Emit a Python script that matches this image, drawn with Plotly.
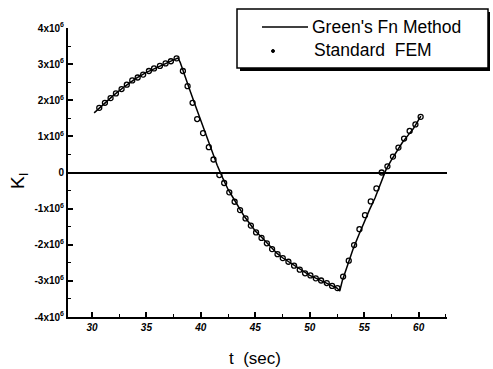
import plotly.graph_objects as go

# Stress intensity factor history, K_I in units of 10^6
green_t = [30.2, 31.0, 32.0, 33.0, 34.0, 35.0, 36.0, 37.0, 37.6, 37.9, 38.1, 38.5,
           39.0, 39.5, 40.0, 40.5, 41.0, 41.5, 42.0, 42.5, 43.0, 43.6, 44.0, 44.6,
           45.0, 45.6, 46.0, 46.5, 47.0, 47.5, 48.0, 48.6, 49.0, 49.6, 50.0, 50.6,
           51.0, 51.6, 52.0, 52.5, 52.75, 53.0, 53.4, 54.0, 54.5, 55.0, 55.5, 56.0,
           56.5, 57.0, 57.5, 58.0, 58.5, 59.0, 59.5, 60.2]
green_k = [1.65, 1.88, 2.14, 2.38, 2.60, 2.77, 2.92, 3.05, 3.13, 3.17, 3.05, 2.68,
           2.27, 1.85, 1.43, 1.01, 0.59, 0.20, -0.15, -0.47, -0.72, -1.03, -1.22, -1.46,
           -1.62, -1.80, -1.93, -2.10, -2.24, -2.36, -2.46, -2.58, -2.66, -2.78, -2.85, -2.93,
           -2.99, -3.07, -3.13, -3.20, -3.28, -2.98, -2.63, -2.10, -1.73, -1.36, -1.02, -0.70,
           -0.30, 0.08, 0.35, 0.58, 0.83, 1.02, 1.21, 1.56]

fem_t = [30.67, 31.19, 31.71, 32.2, 32.72, 33.2, 33.7, 34.2, 34.7, 35.23, 35.7, 36.24,
         36.76, 37.25, 37.77, 38.35, 38.78, 39.24, 39.66, 40.2, 40.73, 41.16, 41.7, 42.14,
         42.61, 43.1, 43.6, 44.1, 44.59, 45.07, 45.57, 46.06, 46.54, 47.04, 47.52, 48.04,
         48.56, 49.08, 49.57, 50.06, 50.55, 51.04, 51.56, 52.05, 52.54, 53.06, 53.58, 54.07,
         54.56, 55.07, 55.6, 56.12, 56.6, 57.13, 57.64, 58.14, 58.66, 59.17, 59.7, 60.18]
fem_k = [1.79, 1.93, 2.06, 2.19, 2.31, 2.43, 2.55, 2.63, 2.71, 2.81, 2.88, 2.95,
         3.02, 3.08, 3.16, 2.81, 2.39, 1.93, 1.48, 1.09, 0.70, 0.36, -0.07, -0.29,
         -0.55, -0.81, -1.04, -1.27, -1.47, -1.66, -1.81, -1.96, -2.12, -2.26, -2.37, -2.47,
         -2.58, -2.69, -2.79, -2.85, -2.93, -2.99, -3.06, -3.14, -3.20, -2.88, -2.44, -2.01,
         -1.57, -1.18, -0.80, -0.44, 0.0, 0.17, 0.44, 0.69, 0.94, 1.15, 1.33, 1.54]

x_ticks = [30, 35, 40, 45, 50, 55, 60]
y_ticks = [-4, -3, -2, -1, 0, 1, 2, 3, 4]
y_ticktext = ["-4x10<sup>6</sup>", "-3x10<sup>6</sup>", "-2x10<sup>6</sup>", "-1x10<sup>6</sup>",
              "0", "1x10<sup>6</sup>", "2x10<sup>6</sup>", "3x10<sup>6</sup>", "4x10<sup>6</sup>"]

SCALE = 1e6
FONT = "Liberation Sans, Arial, sans-serif"

fig = go.Figure()
fig.add_trace(go.Scatter(
    x=green_t, y=[k * SCALE for k in green_k], mode="lines",
    name="Green's Fn Method", line=dict(color="black", width=1.5), showlegend=False))
fig.add_trace(go.Scatter(
    x=fem_t, y=[k * SCALE for k in fem_k], mode="markers",
    name="Standard FEM", showlegend=False,
    marker=dict(symbol="circle-open", size=5, color="black", line=dict(width=1.3, color="black"))))

# plot area in pixels: x 68..447, y 28..317
L, R, T, B = 68, 447, 28, 317
def px(x):
    return (x - L) / (R - L)
def py(y):
    return (B - y) / (B - T)

shapes = [
    # legend shadow and box
    dict(type="rect", xref="paper", yref="paper", x0=px(240), x1=px(490), y0=py(71), y1=py(12),
         fillcolor="black", line=dict(width=0), layer="above"),
    dict(type="rect", xref="paper", yref="paper", x0=px(237), x1=px(488), y0=py(68), y1=py(9),
         fillcolor="white", line=dict(color="black", width=1.5), layer="above"),
    dict(type="line", xref="paper", yref="paper", x0=px(262), x1=px(308), y0=py(27), y1=py(27),
         line=dict(color="black", width=1.5), layer="above"),
    dict(type="circle", xref="paper", yref="paper", x0=px(271.5), x1=px(274.5), y0=py(52.5), y1=py(49.5),
         fillcolor="black", line=dict(color="black", width=1), layer="above"),
]

annotations = [
    dict(text="Green's Fn Method", xref="paper", yref="paper", x=px(310), y=py(27),
         xanchor="left", yanchor="middle", showarrow=False,
         font=dict(family=FONT, size=17.5, color="black")),
    dict(text="Standard\u00a0 FEM", xref="paper", yref="paper", x=px(312), y=py(50),
         xanchor="left", yanchor="middle", showarrow=False,
         font=dict(family=FONT, size=17.5, color="black")),
    dict(text="t\u00a0 (sec)", xref="paper", yref="paper", x=px(255), y=py(358),
         xanchor="center", yanchor="middle", showarrow=False,
         font=dict(family=FONT, size=17, color="black")),
    dict(text="K<sub>I</sub>", xref="paper", yref="paper", x=px(19), y=py(181),
         xanchor="center", yanchor="middle", showarrow=False, textangle=-90,
         font=dict(family=FONT, size=19, color="black")),
]

fig.update_layout(
    width=493, height=369,
    margin=dict(l=L, r=493 - R, t=T, b=369 - B),
    paper_bgcolor="white", plot_bgcolor="white",
    shapes=shapes, annotations=annotations,
    xaxis=dict(range=[27.8, 62.6], tickvals=x_ticks, ticks="inside", ticklen=5, tickwidth=1.5,
               tickcolor="black", showline=True, linewidth=2, linecolor="black",
               showgrid=False, zeroline=False,
               tickfont=dict(family=FONT, size=10, color="black", weight="bold", style="italic"),
               minor=dict(ticks="inside", ticklen=3, tickwidth=1, tick0=0, dtick=2.5,
                          tickcolor="black", showgrid=False)),
    yaxis=dict(range=[-4 * SCALE, 4 * SCALE], tickvals=[v * SCALE for v in y_ticks],
               ticktext=y_ticktext, ticks="inside", ticklen=5, tickwidth=1.5, tickcolor="black",
               showline=True, linewidth=2, linecolor="black", showgrid=False,
               zeroline=True, zerolinecolor="black", zerolinewidth=1.5,
               tickfont=dict(family=FONT, size=10, color="black", weight="bold"),
               minor=dict(ticks="inside", ticklen=3, tickwidth=1, tick0=0, dtick=0.5 * SCALE,
                          tickcolor="black", showgrid=False)),
)

fig.write_html("out.html")
